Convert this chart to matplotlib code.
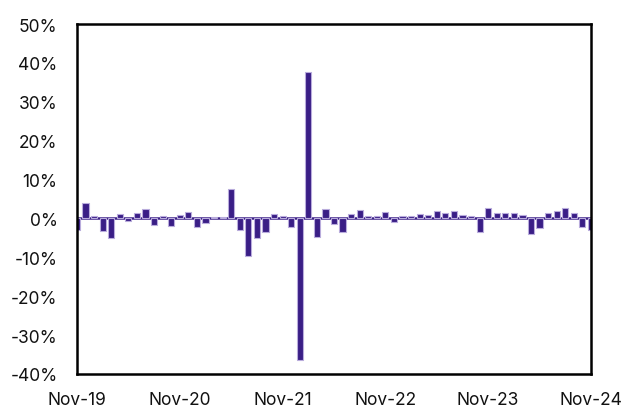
import numpy as np
import matplotlib
matplotlib.use('Agg')
import matplotlib.pyplot as plt

# Monthly change, Nov-19 .. Nov-24 (%)
months = ['Nov-19', 'Dec-19', 'Jan-20', 'Feb-20', 'Mar-20', 'Apr-20', 'May-20', 'Jun-20', 'Jul-20', 'Aug-20',
          'Sep-20', 'Oct-20', 'Nov-20', 'Dec-20', 'Jan-21', 'Feb-21', 'Mar-21', 'Apr-21', 'May-21', 'Jun-21',
          'Jul-21', 'Aug-21', 'Sep-21', 'Oct-21', 'Nov-21', 'Dec-21', 'Jan-22', 'Feb-22', 'Mar-22', 'Apr-22',
          'May-22', 'Jun-22', 'Jul-22', 'Aug-22', 'Sep-22', 'Oct-22', 'Nov-22', 'Dec-22', 'Jan-23', 'Feb-23',
          'Mar-23', 'Apr-23', 'May-23', 'Jun-23', 'Jul-23', 'Aug-23', 'Sep-23', 'Oct-23', 'Nov-23', 'Dec-23',
          'Jan-24', 'Feb-24', 'Mar-24', 'Apr-24', 'May-24', 'Jun-24', 'Jul-24', 'Aug-24', 'Sep-24', 'Oct-24',
          'Nov-24']
change = [-3.1, 4.0, 0.6, -3.2, -5.1, 1.2, -0.7, 1.3, 2.4, -1.7,
          0.6, -2.0, 0.9, 1.7, -2.2, -1.2, 0.4, 0.4, 7.5, -3.1,
          -9.7, -5.1, -3.4, 1.1, 0.7, -2.3, -36.3, 37.6, -4.8, 2.4,
          -1.4, -3.5, 1.2, 2.2, 0.7, 0.6, 1.6, -0.9, 0.6, 0.6,
          1.2, 1.0, 1.8, 1.3, 2.0, 0.8, 0.5, -3.5, 2.6, 1.4,
          1.4, 1.4, 0.8, -4.1, -2.4, 1.3, 2.0, 2.6, 1.3, -2.1,
          -3.1]
yticks = [-40, -30, -20, -10, 0, 10, 20, 30, 40, 50]

plt.rcParams['font.family'] = ['Inter', 'DejaVu Sans']

fig = plt.figure(figsize=(6.23, 4.06), dpi=100)
ax = fig.add_axes([0.1236, 0.0764, 0.8250, 0.862])

x = np.arange(len(change))
ax.bar(x, change, width=0.72, color='#3a1e86', edgecolor='#b9acdc', linewidth=0.8, zorder=3)
ax.axhline(0, color='#3a1e86', lw=1.8, zorder=2)

ax.set_xlim(0, len(change) - 1)
ax.set_ylim(-40, 50)
ax.set_yticks(yticks)
ax.set_yticklabels(['%d%%' % v for v in yticks])
ax.set_xticks(x[::12])
ax.set_xticklabels(months[::12])
ax.tick_params(axis='both', length=0, labelsize=12.5, colors='#111111')
ax.tick_params(axis='x', pad=12)
ax.tick_params(axis='y', pad=14)

for s in ax.spines.values():
    s.set_linewidth(1.8)
    s.set_color('black')
    s.set_zorder(5)

fig.savefig('out.png', dpi=100)
